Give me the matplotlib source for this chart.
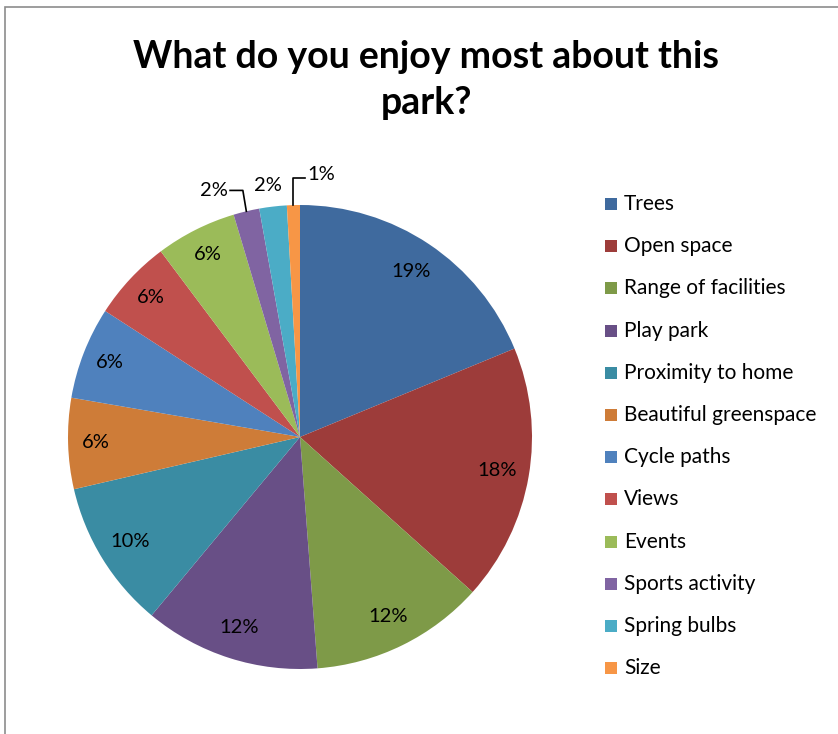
import numpy as np
import matplotlib.pyplot as plt
from matplotlib.patches import Rectangle

# Survey answers, share of responses (%)
categories = ["Trees", "Open space", "Range of facilities", "Play park",
              "Proximity to home", "Beautiful greenspace", "Cycle paths",
              "Views", "Events", "Sports activity", "Spring bulbs", "Size"]
shares = [18.7, 17.8, 12.1, 12.2, 10.3, 6.3, 6.4, 5.6, 5.6, 1.8, 1.9, 0.9]
pct_labels = ["19%", "18%", "12%", "12%", "10%", "6%", "6%", "6%", "6%",
              "2%", "2%", "1%"]
colors = ["#3F6A9E", "#9D3C3A", "#7E9A48", "#684F86", "#3A8CA3", "#CE7C38",
          "#4F81BD", "#C0504D", "#9BBB59", "#8064A2", "#4BACC6", "#F79646"]

plt.rcParams["font.family"] = ["Lato", "DejaVu Sans"]

W, H = 838, 734
fig = plt.figure(figsize=(W / 100, H / 100), dpi=100)

# chart border
fig.patches.append(Rectangle((5 / W, -0.1), 1.2, (734 - 7) / H + 0.1,
                             transform=fig.transFigure, fill=False,
                             edgecolor="#8c8c8c", linewidth=1.2))

fig.text(426 / W, 1 - 80 / H, "What do you enjoy most about this\npark?",
         ha="center", va="center", fontsize=27, fontweight="bold",
         linespacing=1.4)

cx, cy, r = 300, 437, 232
ax = fig.add_axes([(cx - r) / W, (H - cy - r) / H, 2 * r / W, 2 * r / H])
wedges, _ = ax.pie(shares, colors=colors, startangle=90, counterclock=False,
                   wedgeprops=dict(linewidth=0))
ax.set_xlim(-1, 1)
ax.set_ylim(-1, 1)
ax.set_aspect("auto")
ax.axis("off")

fs = 14.5
# percentage labels inside the larger slices
for i, w in enumerate(wedges[:9]):
    mid = np.deg2rad((w.theta1 + w.theta2) / 2)
    d = 0.86 if i < 5 else 0.88
    ax.text(d * np.cos(mid), d * np.sin(mid), pct_labels[i],
            ha="center", va="center", fontsize=fs)

# small slices: labels outside, some with leader lines
def mid_xy(w, rad):
    a = np.deg2rad((w.theta1 + w.theta2) / 2)
    return rad * np.cos(a), rad * np.sin(a)

# Sports activity
x0, y0 = mid_xy(wedges[9], 1.0)
ax.plot([x0, x0 - 0.015, x0 - 0.07], [y0, y0 + 0.09, y0 + 0.09],
        color="black", lw=1.2, clip_on=False)
ax.text(x0 - 0.08, y0 + 0.09, pct_labels[9], ha="right", va="center",
        fontsize=fs)
# Spring bulbs
x0, y0 = mid_xy(wedges[10], 1.0)
ax.text(x0 - 0.02, y0 + 0.09, pct_labels[10], ha="center", va="center",
        fontsize=fs)
# Size
x0, y0 = mid_xy(wedges[11], 1.0)
ax.plot([x0, x0, x0 + 0.05], [y0, y0 + 0.115, y0 + 0.115],
        color="black", lw=1.2, clip_on=False)
ax.text(x0 + 0.06, y0 + 0.13, pct_labels[11], ha="left", va="center",
        fontsize=fs)

# legend
y = 204
for name, c in zip(categories, colors):
    fig.patches.append(Rectangle((605 / W, 1 - (y + 6) / H), 12 / W, 12 / H,
                                 transform=fig.transFigure, facecolor=c,
                                 edgecolor="none"))
    fig.text(624 / W, 1 - y / H, name, ha="left", va="center", fontsize=15)
    y += 42.2

fig.savefig("out.png", dpi=100)
